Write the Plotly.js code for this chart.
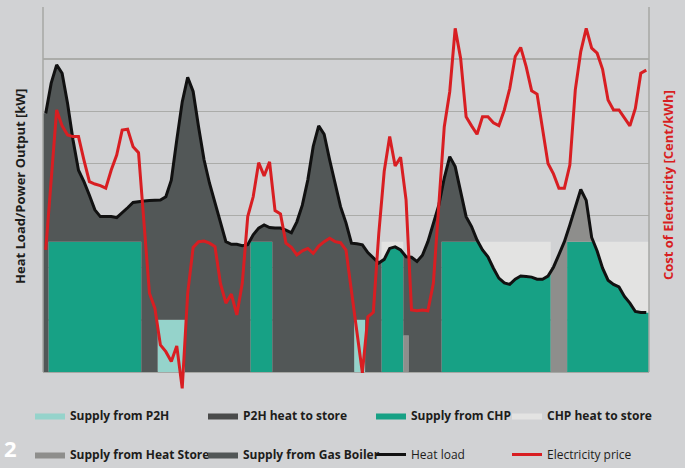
<!DOCTYPE html>
<html>
<head>
<meta charset="utf-8">
<script src="https://cdn.plot.ly/plotly-3.0.1.min.js"></script>
<style>
html,body{margin:0;padding:0;background:#d1d2d4;}
#chart{width:685px;height:468px;}
</style>
</head>
<body>
<div id="chart"></div>
<script>
// Hour index (category) 0..110
const hours = Array.from({length: 111}, (_, i) => i);

// Heat load [kW]
const heatLoad = [
 496,554,589,573,515,445,387,365,339,311,
 298,298,298,296,305,315,325,327,328,329,
 330,330,336,368,445,518,565,538,470,407,
 362,324,285,250,245,245,242,244,263,276,
 282,277,276,276,272,267,288,320,368,433,
 472,456,407,362,317,286,247,246,244,229,
 218,209,216,237,240,234,221,220,212,224,
 250,285,320,372,413,394,349,298,279,253,
 234,221,199,180,171,168,178,184,183,182,
 178,178,184,201,225,250,282,315,350,329,
 258,232,199,176,168,163,145,132,116,114,114
];

// CHP output [kW] per hour
const chpOutput = [
 0,250,250,250,250,250,250,250,250,250,
 250,250,250,250,250,250,250,250,0,0,
 0,0,0,0,0,0,0,0,0,0,
 0,0,0,0,0,0,0,0,250,250,
 250,250,0,0,0,0,0,0,0,0,
 0,0,0,0,0,0,0,0,0,0,
 0,0,250,250,250,250,0,0,0,0,
 0,0,0,250,250,250,250,250,250,250,
 250,250,250,250,250,250,250,250,250,250,
 250,250,250,0,0,0,250,250,250,250,
 250,250,250,250,250,250,250,250,250,250,250
];

// P2H output [kW] per hour
const p2hOutput = [
 0,0,0,0,0,0,0,0,0,0,
 0,0,0,0,0,0,0,0,0,0,
 0,100,100,100,100,100,0,0,0,0,
 0,0,0,0,0,0,0,0,0,0,
 0,0,0,0,0,0,0,0,0,0,
 0,0,0,0,0,0,0,100,100,0,
 0,0,0,0,0,0,0,0,0,0,
 0,0,0,0,0,0,0,0,0,0,
 0,0,0,0,0,0,0,0,0,0,
 0,0,0,0,0,0,0,0,0,0,
 0,0,0,0,0,0,0,0,0,0,0
];

// Heat store discharge [kW] per hour
const heatStore = [
 0,0,0,0,0,0,0,0,0,0,
 0,0,0,0,0,0,0,0,0,0,
 0,0,0,0,0,0,0,0,0,0,
 0,0,0,0,0,0,0,0,0,0,
 0,0,0,0,0,0,0,0,0,0,
 0,0,0,0,0,0,0,0,0,0,
 0,0,0,0,0,0,70,0,0,0,
 0,0,0,0,0,0,0,0,0,0,
 0,0,0,0,0,0,0,0,0,0,
 0,0,0,201,225,250,32,65,100,79,
 8,0,0,0,0,0,0,0,0,0,0
];

// Electricity price [Cent/kWh]
const price = [
 4.68,7.36,10.05,9.44,9.09,9.03,9.03,8.13,7.30,7.21,
 7.15,7.05,7.75,8.32,9.28,9.31,8.64,8.41,5.70,3.02,
 2.44,1.04,0.78,0.40,1.00,-0.63,3.02,4.78,5.00,5.02,
 4.94,4.81,3.40,2.64,2.99,2.19,3.40,5.96,6.72,8.03,
 7.52,8.06,6.19,6.06,4.94,4.78,4.49,4.65,4.74,4.55,
 4.83,5.00,5.13,5.00,4.96,4.68,3.10,1.61,-0.03,2.12,
 2.29,5.30,7.70,9.03,7.90,8.24,6.60,2.38,2.35,2.38,
 2.35,3.40,6.34,9.41,10.75,13.18,12.03,9.79,9.44,9.12,
 9.79,9.79,9.56,9.45,10.05,10.88,12.10,12.45,11.71,10.79,
 10.66,9.41,8.00,7.60,7.05,7.05,7.94,10.82,12.29,13.18,
 12.42,12.23,11.61,10.43,10.05,10.05,9.73,9.44,10.11,11.46,11.58
];

// Build stacked step/area outlines (vertical edges at hour boundaries)
function buildStack() {
  const n = heatLoad.length;
  const out = {x: [], c1: [], c2: [], c3: [], c4: [], c5: [], c6: []};
  const loadAt = (k, side) => {
    if (side === 0) return heatLoad[k];
    if (side < 0) return k > 0 ? (heatLoad[k] + heatLoad[k - 1]) / 2 : heatLoad[k];
    return k < n - 1 ? (heatLoad[k] + heatLoad[k + 1]) / 2 : heatLoad[k];
  };
  for (let k = 0; k < n; k++) {
    const remC = heatLoad[k] - Math.min(p2hOutput[k], heatLoad[k]) -
      Math.min(chpOutput[k], Math.max(0, heatLoad[k] - p2hOutput[k]));
    const storeFull = heatStore[k] > 0 && heatStore[k] >= remC - 1;
    for (const side of [-1, 0, 1]) {
      const L = loadAt(k, side);
      let rem = L;
      const s1 = Math.min(p2hOutput[k], rem); rem -= s1;
      const s2 = Math.min(chpOutput[k], rem); rem -= s2;
      const s3 = storeFull ? rem : Math.min(heatStore[k], rem); rem -= s3;
      const ex1 = p2hOutput[k] - s1;
      const ex2 = chpOutput[k] - s2;
      out.x.push(hours[k] + side * 0.5);
      out.c1.push(s1);
      out.c2.push(s1 + s2);
      out.c3.push(s1 + s2 + s3);
      out.c4.push(L);
      out.c5.push(L + ex1);
      out.c6.push(L + ex1 + ex2);
    }
  }
  return out;
}
const S = buildStack();

const font = {family: 'Open Sans, sans-serif', size: 12, color: '#1d1d1b'};
function area(name, y, color, fill, legend, rank) {
  return {
    type: 'scatter', mode: 'lines', x: S.x, y: y, name: name,
    fill: fill, fillcolor: color, line: {width: 0, color: color},
    legend: legend, legendgroup: name, legendrank: rank, hoverinfo: 'skip'
  };
}

const traces = [
  area('<b>Supply from P2H</b>', S.c1, '#95d3cb', 'tozeroy', 'legend', 1),
  area('<b>Supply from CHP</b>', S.c2, '#17a185', 'tonexty', 'legend3', 1),
  area('<b>Supply from Heat Store</b>', S.c3, '#8e8e8c', 'tonexty', 'legend', 2),
  area('<b>Supply from Gas Boiler</b>', S.c4, '#525757', 'tonexty', 'legend2', 2),
  area('<b>P2H heat to store</b>', S.c5, '#4a4b4b', 'tonexty', 'legend2', 1),
  area('<b>CHP heat to store</b>', S.c6, '#e3e3e2', 'tonexty', 'legend4', 1),
  {type: 'scatter', mode: 'lines', x: hours, y: heatLoad, name: 'Heat load',
   line: {color: '#111111', width: 3}, legend: 'legend3', legendgroup: 'hl', legendrank: 2, hoverinfo: 'skip'},
  {type: 'scatter', mode: 'lines', x: hours, y: price, name: 'Electricity price', yaxis: 'y2',
   line: {color: '#d81e22', width: 3}, legend: 'legend4', legendgroup: 'ep', legendrank: 2, hoverinfo: 'skip'}
];

function leg(xpx) {
  return {x: xpx / 685, y: 1 - 401 / 468, xref: 'container', yref: 'container',
    xanchor: 'left', yanchor: 'top', bgcolor: 'rgba(0,0,0,0)', borderwidth: 0,
    traceorder: 'grouped', tracegroupgap: 20, font: font, orientation: 'v'};
}

const layout = {
  width: 685, height: 468,
  paper_bgcolor: '#d1d2d4', plot_bgcolor: '#d1d2d4',
  margin: {l: 43, r: 36, t: 7, b: 76, pad: 0, autoexpand: false},
  font: font,
  showlegend: true,
  xaxis: {range: [-0.5, 110.5], showgrid: false, zeroline: false, showticklabels: false,
          showline: false, ticks: '', automargin: false},
  yaxis: {range: [-38.36, 700], dtick: 100, tick0: 0, showgrid: true, gridcolor: '#abaca9',
          gridwidth: 1.5, zeroline: true, zerolinecolor: '#a6a7a4', zerolinewidth: 2,
          showticklabels: false, ticks: '', showline: false, automargin: false},
  yaxis2: {range: [-0.767, 14], overlaying: 'y', side: 'right', showgrid: false,
           zeroline: false, showticklabels: false, ticks: '', showline: false, automargin: false},
  legend: leg(30),
  legend2: leg(203),
  legend3: leg(371),
  legend4: leg(507),
  shapes: [
    {type: 'line', xref: 'paper', yref: 'y', x0: 0, x1: 0, y0: 0, y1: 700,
     line: {color: '#a6a7a4', width: 1.5}},
    {type: 'line', xref: 'paper', yref: 'y', x0: 1, x1: 1, y0: 0, y1: 700,
     line: {color: '#a6a7a4', width: 1.5}}
  ],
  annotations: [
    {text: '<b>Heat Load/Power Output [kW]</b>', textangle: -90, xref: 'paper', yref: 'paper',
     x: -23 / 606, y: (392 - 187) / 385, xanchor: 'center', yanchor: 'middle', showarrow: false,
     font: {family: 'Open Sans, sans-serif', size: 13, color: '#1d1d1b'}},
    {text: '<b>Cost of Electricity [Cent/kWh]</b>', textangle: -90, xref: 'paper', yref: 'paper',
     x: 625 / 606, y: (392 - 185) / 385, xanchor: 'center', yanchor: 'middle', showarrow: false,
     font: {family: 'Open Sans, sans-serif', size: 13, color: '#d81e22'}},
    {text: '<b>2</b>', xref: 'paper', yref: 'paper', x: -33 / 606, y: (392 - 448) / 385,
     xanchor: 'center', yanchor: 'middle',
     showarrow: false, font: {family: 'Open Sans, sans-serif', size: 22, color: '#ffffff'}}
  ]
};

Plotly.newPlot('chart', traces, layout, {displayModeBar: false, staticPlot: true});
</script>
</body>
</html>
